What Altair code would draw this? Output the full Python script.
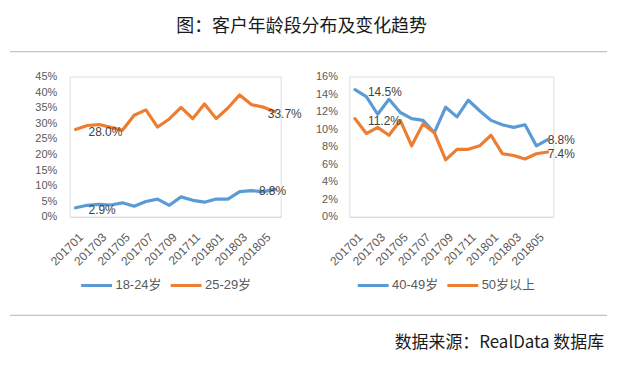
import altair as alt
import pandas as pd

months = ["201701", "201702", "201703", "201704", "201705", "201706",
          "201707", "201708", "201709", "201710", "201711", "201712",
          "201801", "201802", "201803", "201804", "201805", "201806"]
tick_months = months[::2]

left_names = ["18-24岁", "25-29岁"]
right_names = ["40-49岁", "50岁以上"]

age_18_24 = [0.029, 0.037, 0.040, 0.038, 0.045, 0.034, 0.049, 0.057, 0.037,
             0.064, 0.053, 0.047, 0.057, 0.057, 0.081, 0.084, 0.081, 0.088]
age_25_29 = [0.280, 0.293, 0.296, 0.287, 0.278, 0.326, 0.343, 0.288, 0.314,
             0.351, 0.315, 0.362, 0.315, 0.349, 0.391, 0.360, 0.352, 0.337]
age_40_49 = [0.145, 0.137, 0.117, 0.134, 0.119, 0.112, 0.110, 0.096, 0.125,
             0.114, 0.133, 0.121, 0.110, 0.105, 0.102, 0.105, 0.081, 0.088]
age_50_up = [0.112, 0.095, 0.102, 0.093, 0.110, 0.081, 0.106, 0.096, 0.065,
             0.077, 0.077, 0.081, 0.093, 0.072, 0.070, 0.066, 0.072, 0.074]

left_ticks = [0, 0.05, 0.10, 0.15, 0.20, 0.25, 0.30, 0.35, 0.40, 0.45]
right_ticks = [0, 0.02, 0.04, 0.06, 0.08, 0.10, 0.12, 0.14, 0.16]

title_text = "图：客户年龄段分布及变化趋势"
source_text = "数据来源：RealData 数据库"

BLUE = "#5B9BD5"
ORANGE = "#ED7D31"
FONT = "Liberation Sans, Noto Sans CJK SC"
CJK = "Noto Sans CJK SC"


def long_df(names, a, b):
    return pd.DataFrame({
        "month": months * 2,
        "series": [names[0]] * len(months) + [names[1]] * len(months),
        "value": a + b,
    })


df_left = long_df(left_names, age_18_24, age_25_29)
df_right = long_df(right_names, age_40_49, age_50_up)
dummy = pd.DataFrame({"d": [0]})


def panel(df, names, ymax, yticks, ypad, legend_x, end_dx, end_dy):
    x = alt.X("month:O", scale=alt.Scale(type="point", padding=0.5, domain=months),
              axis=alt.Axis(title=None, values=tick_months, labelAngle=-45,
                            labelAlign="right", labelBaseline="middle",
                            labelPadding=18, labelOffset=5, ticks=False,
                            domainColor="#d9d9d9", domainWidth=1, grid=False,
                            labelColor="#595959", labelFontSize=12, labelFont=FONT))
    y = alt.Y("value:Q", scale=alt.Scale(domain=[0, ymax], nice=False),
              axis=alt.Axis(title=None, format=".0%", values=yticks, domain=False,
                            ticks=False, grid=False, labelPadding=ypad,
                            labelColor="#595959", labelFontSize=11, labelFont=FONT))
    color = alt.Color("series:N",
                      scale=alt.Scale(domain=names, range=[BLUE, ORANGE]),
                      legend=alt.Legend(title=None, orient="none", legendX=legend_x,
                                        legendY=193, direction="horizontal",
                                        symbolType="stroke", symbolSize=961,
                                        symbolStrokeWidth=3, labelFontSize=13,
                                        labelColor="#595959", labelFont=FONT,
                                        columnPadding=2, labelOffset=2))
    base = alt.Chart(df)
    lines = base.mark_line(strokeWidth=3.2, strokeJoin="round", strokeCap="round").encode(
        x=x, y=y, color=color)
    first = base.transform_filter(alt.datum.month == months[0]).mark_text(
        align="left", baseline="middle", dx=13, dy=2, fontSize=12,
        font=FONT, color="#404040").encode(
        x=x, y=y, text=alt.Text("value:Q", format=".1%"))
    lasts = []
    for name, dx, dy in zip(names, end_dx, end_dy):
        lasts.append(base.transform_filter(
            (alt.datum.month == months[-1]) & (alt.datum.series == name)).mark_text(
            align="left", baseline="middle", dx=dx, dy=dy, fontSize=12,
            font=FONT, color="#404040").encode(
            x=x, y=y, text=alt.Text("value:Q", format=".1%")))
    return [lines, first] + lasts


# decorations placed relative to the left plot origin (page 68, 75)
anchor = alt.Chart(dummy).mark_rect(fill="white", opacity=0).encode(
    x=alt.value(-60), x2=alt.value(554), y=alt.value(-67), y2=alt.value(285))
title = alt.Chart(pd.DataFrame({"t": [title_text]})).mark_text(
    font=CJK, fontSize=18, color="#1a1a1a", align="center", baseline="middle").encode(
    x=alt.value(233), y=alt.value(-50), text="t:N")
top_rule = alt.Chart(dummy).mark_rule(color="#c4c4c4", strokeWidth=1.2).encode(
    x=alt.value(-60), x2=alt.value(540), y=alt.value(-25))
bottom_rule = alt.Chart(dummy).mark_rule(color="#c4c4c4", strokeWidth=1.2).encode(
    x=alt.value(-60), x2=alt.value(540), y=alt.value(240))
source = alt.Chart(pd.DataFrame({"t": [source_text]})).mark_text(
    font=CJK, fontSize=17, color="#1a1a1a", align="right", baseline="middle").encode(
    x=alt.value(537), y=alt.value(268), text="t:N")

left_layers = panel(df_left, left_names, 0.45, left_ticks, 13, 10, [-16, -7], [2, 2])
left = alt.layer(anchor, title, top_rule, bottom_rule, source, *left_layers).properties(
    width=212, height=141)

right_layers = panel(df_right, right_names, 0.16, right_ticks, 12, 7, [0, 0], [0, 2])
right = alt.layer(*right_layers).properties(width=205, height=141)

chart = alt.hconcat(left, right, spacing=69, bounds="flush", padding=0).resolve_scale(
    color="independent").resolve_legend(color="independent").configure_view(
    strokeWidth=0).configure(background="white")

chart.save("out.html", embed_options={"renderer": "svg", "actions": False})
